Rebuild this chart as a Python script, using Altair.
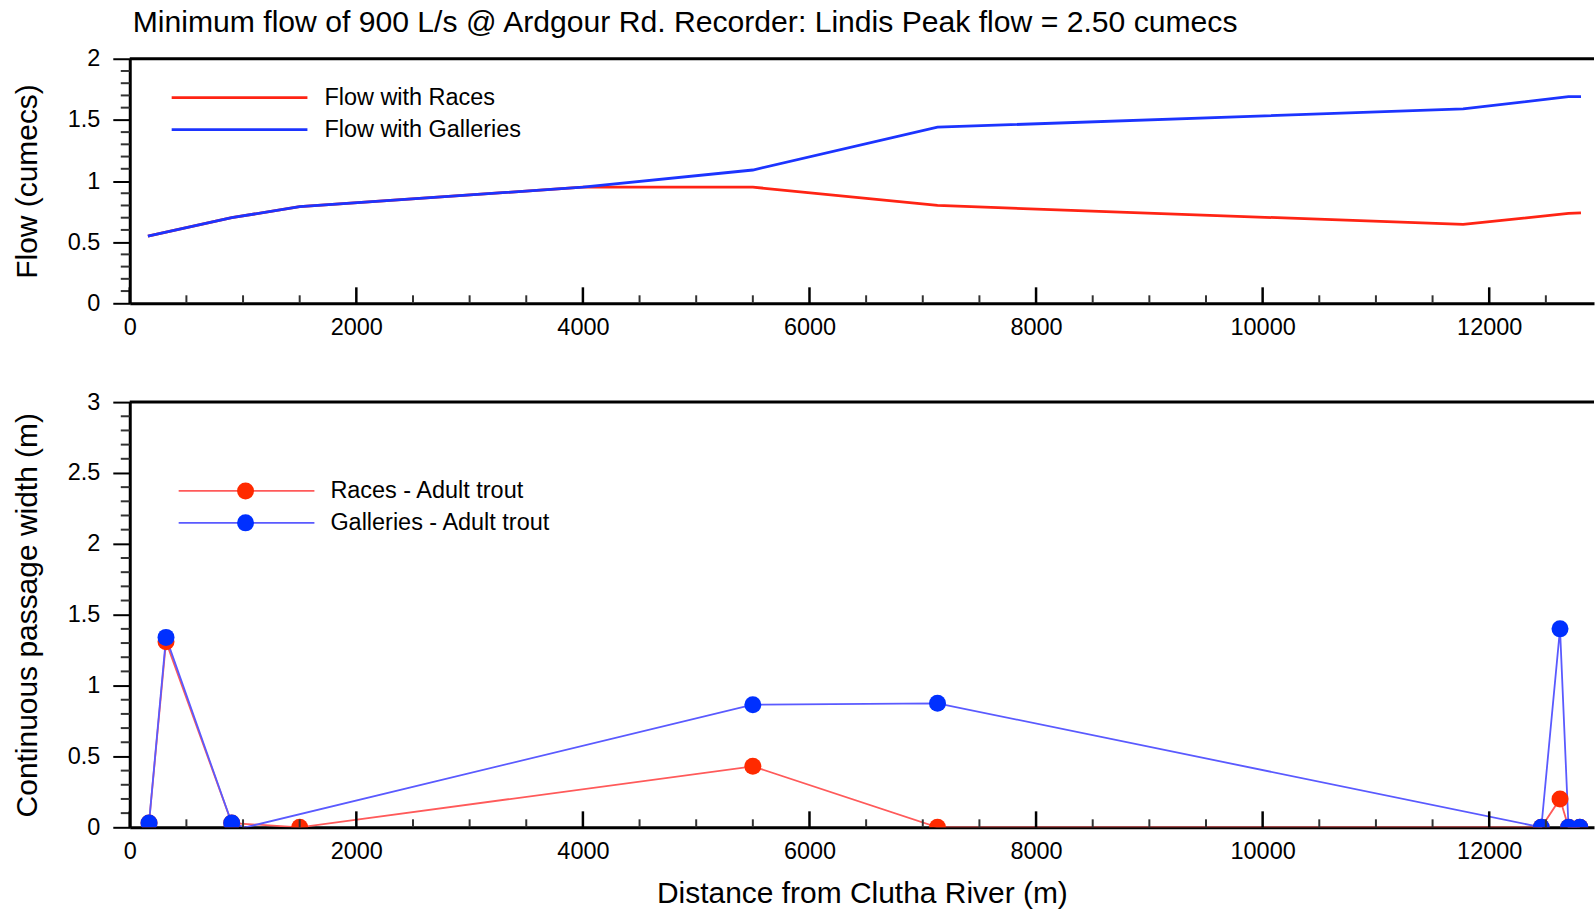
import altair as alt
import pandas as pd

FONT = "Liberation Sans"
TITLE = "Minimum flow of 900 L/s @ Ardgour Rd. Recorder: Lindis Peak flow = 2.50 cumecs"

# ---- top panel data: flow along the river ----
flow_dist = [160, 900, 1500, 4000, 5500, 7130, 11770, 12700, 12810]
flow_races = [0.55, 0.70, 0.79, 0.95, 0.95, 0.80, 0.645, 0.735, 0.74]
flow_galleries = [0.55, 0.70, 0.79, 0.95, 1.09, 1.44, 1.59, 1.69, 1.69]

# ---- bottom panel data: continuous passage width ----
races_dist = [170, 320, 900, 1500, 5500, 7130, 12460, 12625, 12700, 12800]
races_width = [0.03, 1.31, 0.03, 0.0, 0.43, 0.0, 0.0, 0.20, 0.0, 0.0]
races_marker = [1, 1, 1, 1, 1, 1, 1, 1, 1, 1]
galleries_dist = [170, 320, 900, 1020, 5500, 7130, 12460, 12625, 12700, 12800]
galleries_width = [0.03, 1.34, 0.03, 0.0, 0.865, 0.875, 0.0, 1.40, 0.0, 0.0]
galleries_marker = [1, 1, 1, 0, 1, 1, 1, 1, 1, 1]

# ---- ticks ----
x_major = [0, 2000, 4000, 6000, 8000, 10000, 12000]
x_minor = [500, 1000, 1500, 2500, 3000, 3500, 4500, 5000, 5500, 6500, 7000, 7500,
           8500, 9000, 9500, 10500, 11000, 11500, 12500]
flow_major = [0, 0.5, 1, 1.5, 2]
flow_minor = [0.1, 0.2, 0.3, 0.4, 0.6, 0.7, 0.8, 0.9, 1.1, 1.2, 1.3, 1.4,
              1.6, 1.7, 1.8, 1.9]
width_major = [0, 0.5, 1, 1.5, 2, 2.5, 3]
width_minor = [0.1, 0.2, 0.3, 0.4, 0.6, 0.7, 0.8, 0.9, 1.1, 1.2, 1.3, 1.4,
               1.6, 1.7, 1.8, 1.9, 2.1, 2.2, 2.3, 2.4, 2.6, 2.7, 2.8, 2.9]

W = 1467
H_TOP = 245
H_BOT = 426
X_MAX = 12925

TOP_RED = "#ff2414"
TOP_BLUE = "#1c34ff"
LINE_RED = "#ff5a5a"
LINE_BLUE = "#5a5aff"
MARK_RED = "#ff2a00"
MARK_BLUE = "#0030ff"

xs = alt.Scale(domain=[0, X_MAX], nice=False, zero=False)


def x_axis(title=None):
    kw = dict(values=x_major, format="d", ticks=False, tickSize=0, labelPadding=12,
              labelFontSize=23.5, labelFont=FONT, labelColor="black",
              domainColor="black", domainWidth=3, grid=False,
              labelFlush=False, labelOverlap=False)
    if title:
        kw.update(title=title, titleFont=FONT, titleFontSize=30, titleFontWeight="normal",
                  titleColor="black", titlePadding=16)
    else:
        kw.update(title=None)
    return alt.Axis(**kw)


def y_axis(values, title):
    return alt.Axis(values=values, format="~g", tickSize=17, tickWidth=2, tickColor="black",
                    labelPadding=13, labelFontSize=23.5, labelFont=FONT, labelColor="black",
                    domainColor="black", domainWidth=3, grid=False, labelFlush=False,
                    labelOverlap=False, title=title, titleFont=FONT, titleFontSize=30,
                    titleFontWeight="normal", titleColor="black", titlePadding=25)


def tick_layers(X, Y, minor_y, h):
    y_minor = alt.Chart(pd.DataFrame({"val": minor_y})).mark_rule(
        color="#333", strokeWidth=2, clip=False).encode(
        y=Y, x=alt.value(-9), x2=alt.value(0))
    xmaj = alt.Chart(pd.DataFrame({"dist": x_major})).mark_rule(
        color="black", strokeWidth=2.5, clip=False).encode(
        x=X, y=alt.value(h), y2=alt.value(h - 16))
    xmin = alt.Chart(pd.DataFrame({"dist": x_minor})).mark_rule(
        color="#333", strokeWidth=2, clip=False).encode(
        x=X, y=alt.value(h), y2=alt.value(h - 8))
    border = alt.Chart(pd.DataFrame({"d": [0]})).mark_rule(
        color="black", strokeWidth=3, clip=False).encode(
        x=alt.value(0), x2=alt.value(W), y=alt.value(0))
    return [y_minor, xmaj, xmin, border]


# ---------------- top panel ----------------
ys_top = alt.Scale(domain=[0, 2], nice=False, zero=False)
X_TOP = alt.X("dist:Q", scale=xs, axis=x_axis())
Y_TOP = alt.Y("val:Q", scale=ys_top, axis=y_axis(flow_major, "Flow (cumecs)"))
df_r = pd.DataFrame({"dist": flow_dist, "val": flow_races})
df_g = pd.DataFrame({"dist": flow_dist, "val": flow_galleries})

line_r = alt.Chart(df_r).mark_line(color=TOP_RED, strokeWidth=2.8, clip=True).encode(
    x=X_TOP, y=Y_TOP)
line_g = alt.Chart(df_g).mark_line(color=TOP_BLUE, strokeWidth=2.8, clip=True).encode(
    x=X_TOP, y=Y_TOP)

top_legend = []
for label, col, yy in [("Flow with Races", TOP_RED, 39), ("Flow with Galleries", TOP_BLUE, 71)]:
    d = pd.DataFrame({"t": [label]})
    top_legend.append(alt.Chart(d).mark_rule(color=col, strokeWidth=2.8).encode(
        x=alt.value(42), x2=alt.value(178), y=alt.value(yy)))
    top_legend.append(alt.Chart(d).mark_text(
        align="left", baseline="middle", font=FONT, fontSize=23.5, color="black").encode(
        text="t:N", x=alt.value(195), y=alt.value(yy)))

title_txt = alt.Chart(pd.DataFrame({"t": [TITLE]})).mark_text(
    align="left", baseline="middle", font=FONT, fontSize=30.2, color="black").encode(
    text="t:N", x=alt.value(3), y=alt.value(-36))

top = alt.layer(
    line_r, line_g, *tick_layers(X_TOP, Y_TOP, flow_minor, H_TOP), *top_legend, title_txt
).properties(width=W, height=H_TOP)

# ---------------- bottom panel ----------------
ys_bot = alt.Scale(domain=[0, 3], nice=False, zero=False)
X_BOT = alt.X("dist:Q", scale=xs, axis=x_axis("Distance from Clutha River (m)"))
Y_BOT = alt.Y("val:Q", scale=ys_bot, axis=y_axis(width_major, "Continuous passage width (m)"))
dr = pd.DataFrame({"dist": races_dist, "val": races_width, "m": races_marker})
dg = pd.DataFrame({"dist": galleries_dist, "val": galleries_width, "m": galleries_marker})

line_rb = alt.Chart(dr).mark_line(color=LINE_RED, strokeWidth=1.8, clip=True).encode(
    x=X_BOT, y=Y_BOT)
line_gb = alt.Chart(dg).mark_line(color=LINE_BLUE, strokeWidth=1.8, clip=True).encode(
    x=X_BOT, y=Y_BOT)
pts_r = alt.Chart(dr).transform_filter("datum.m == 1").mark_circle(
    color=MARK_RED, size=290, opacity=1, clip=True).encode(x=X_BOT, y=Y_BOT)
pts_g = alt.Chart(dg).transform_filter("datum.m == 1").mark_circle(
    color=MARK_BLUE, size=290, opacity=1, clip=True).encode(x=X_BOT, y=Y_BOT)

bot_legend = []
for label, lcol, mcol, yy in [("Races - Adult trout", LINE_RED, MARK_RED, 89),
                              ("Galleries - Adult trout", LINE_BLUE, MARK_BLUE, 121)]:
    d = pd.DataFrame({"t": [label]})
    bot_legend.append(alt.Chart(d).mark_rule(color=lcol, strokeWidth=1.8).encode(
        x=alt.value(49), x2=alt.value(185), y=alt.value(yy)))
    bot_legend.append(alt.Chart(d).mark_circle(color=mcol, size=290, opacity=1).encode(
        x=alt.value(116), y=alt.value(yy)))
    bot_legend.append(alt.Chart(d).mark_text(
        align="left", baseline="middle", font=FONT, fontSize=23.5, color="black").encode(
        text="t:N", x=alt.value(201), y=alt.value(yy)))

bottom = alt.layer(
    line_rb, line_gb, pts_r, pts_g, *tick_layers(X_BOT, Y_BOT, width_minor, H_BOT), *bot_legend
).properties(width=W, height=H_BOT)

chart = alt.vconcat(top, bottom, spacing=99, bounds="flush").properties(
    padding={"left": 12, "top": 7, "right": 0, "bottom": 0}
).configure(font=FONT, background="white").configure_view(stroke=None)

chart.save("out.html", embed_options={"renderer": "svg", "actions": False})
